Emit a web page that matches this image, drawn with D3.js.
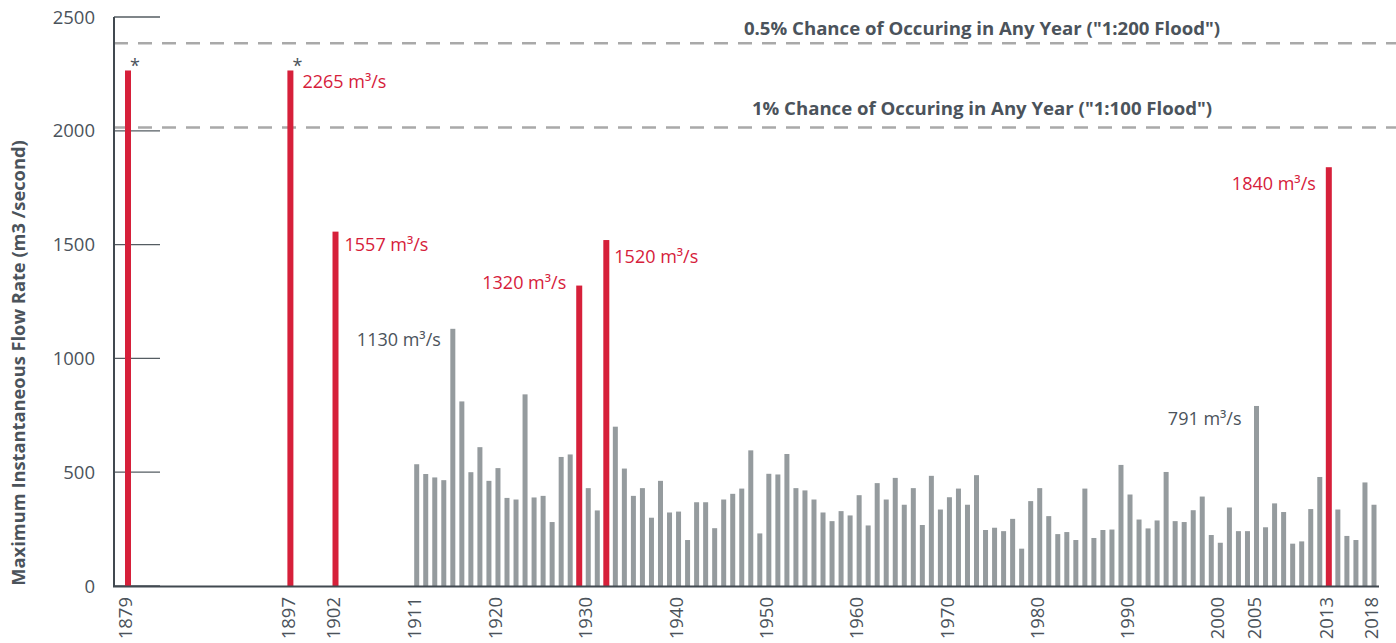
<!DOCTYPE html>
<html>
<head>
<meta charset="utf-8">
<script src="https://cdnjs.cloudflare.com/ajax/libs/d3/7.8.5/d3.min.js"></script>
<style>
body{margin:0;background:#fff;}
text{font-family:"Open Sans",sans-serif;fill:#4b535b;}
</style>
</head>
<body>
<script>
var outerWidth = 1396;
var outerHeight = 643;

// historic (estimated) floods before the gauge record
var earlyYears = [1879, 1897, 1902];
var earlyFlows = [2265, 2265, 1557];

// gauged annual maximum flows, one per year from 1911 to 2018
// (the source chart shows no bar for one year around 2001)
var recordStart = 1911;
var recordFlows = [
  535, 492, 477, 465, 1130, 811, 500, 610, 462, 518,   // 1911-1920
  387, 380, 842, 389, 396, 281, 567, 578, 1320, 430,   // 1921-1930
  332, 1520, 700, 516, 396, 430, 300, 462, 323, 327,   // 1931-1940
  202, 368, 368, 254, 380, 405, 428, 596, 231, 493,    // 1941-1950
  490, 580, 430, 420, 380, 323, 285, 329, 310, 399,    // 1951-1960
  266, 452, 380, 475, 357, 430, 268, 484, 336, 390,    // 1961-1970
  428, 357, 487, 246, 256, 241, 295, 164, 373, 430,    // 1971-1980
  307, 228, 237, 202, 428, 211, 246, 248, 532, 402,    // 1981-1990
  292, 253, 288, 501, 285, 281, 333, 393, 224, 190,    // 1991-2000
  null, 345, 241, 241, 791, 258, 363, 325, 186, 196,   // 2001-2010
  338, 479, 1840, 336, 220, 202, 455, 357              // 2011-2018
];

var highlightYears = [1879, 1897, 1902, 1929, 1932, 2013];
var starYears = [1879, 1897];

var xTickYears = [1879, 1897, 1902, 1911, 1920, 1930, 1940, 1950, 1960, 1970, 1980, 1990, 2000, 2005, 2013, 2018];
var yTicks = [0, 500, 1000, 1500, 2000, 2500];

var floodLevels = [2385, 2015];
var floodLabels = ['0.5% Chance of Occuring in Any Year ("1:200 Flood")', '1% Chance of Occuring  in Any Year ("1:100 Flood")'];

var calloutYears = [1897, 1902, 1929, 1932, 2013, 1915, 2005];
var calloutLabels = ["2265 m³/s", "1557 m³/s", "1320 m³/s", "1520 m³/s", "1840 m³/s", "1130 m³/s", "791 m³/s"];
// where each callout sits relative to the top of its bar
var calloutPlace = [
  {anchor: "start", dx: 12, dy: 18},
  {anchor: "start", dx: 9, dy: 19},
  {anchor: "end", dx: -13, dy: 3},
  {anchor: "start", dx: 8, dy: 23},
  {anchor: "end", dx: -13, dy: 23},
  {anchor: "end", dx: -12, dy: 17},
  {anchor: "end", dx: -15, dy: 19}
];

var red = "#d6203a";
var grey = "#959b9e";
var axisColor = "#414950";

var data = [];
earlyYears.forEach(function(yr, i){ data.push({year: yr, flow: earlyFlows[i]}); });
recordFlows.forEach(function(v, i){
  if (v != null) data.push({year: recordStart + i, flow: v});
});

var svg = d3.select("body")
  .append("svg")
  .attr("width", outerWidth)
  .attr("height", outerHeight);

// the year axis of the source squeezes the missing year out
var xScale = d3.scaleLinear()
  .domain([1879, 1911, 2000, 2002, 2018])
  .range([128, 416.7, 1220.3, 1229.4, 1374]);
var yScale = d3.scaleLinear().domain([0, 2500]).range([586, 17]);
var axisX = 114;

// flood level dashed lines
svg.selectAll("line.flood").data(floodLevels).enter().append("line")
  .attr("class", "flood")
  .attr("x1", axisX).attr("x2", outerWidth)
  .attr("y1", function(d){ return yScale(d); })
  .attr("y2", function(d){ return yScale(d); })
  .attr("stroke", "#a9a9a9")
  .attr("stroke-width", 2.5)
  .attr("stroke-dasharray", "14,10");

svg.selectAll("text.flood").data(floodLabels).enter().append("text")
  .attr("class", "flood")
  .attr("x", 982)
  .attr("y", function(d, i){ return yScale(floodLevels[i]) - (i == 0 ? 8 : 12); })
  .attr("text-anchor", "middle")
  .style("font-size", "18.6px")
  .style("font-weight", "bold")
  .text(function(d){ return d; });

// y ticks
svg.selectAll("line.ytick").data(yTicks).enter().append("line")
  .attr("class", "ytick")
  .attr("x1", axisX).attr("x2", 160)
  .attr("y1", function(d){ return yScale(d); })
  .attr("y2", function(d){ return yScale(d); })
  .attr("stroke", "#555c62")
  .attr("stroke-width", 1.3);

svg.selectAll("text.ytick").data(yTicks).enter().append("text")
  .attr("class", "ytick")
  .attr("x", 95)
  .attr("y", function(d){ return yScale(d); })
  .attr("dy", "0.36em")
  .attr("text-anchor", "end")
  .style("font-size", "18.5px")
  .text(function(d){ return d; });

// bars
svg.selectAll("rect.bar").data(data).enter().append("rect")
  .attr("class", "bar")
  .attr("x", function(d){ return xScale(d.year) - (highlightYears.indexOf(d.year) >= 0 ? 3 : 2.5); })
  .attr("width", function(d){ return highlightYears.indexOf(d.year) >= 0 ? 6 : 5; })
  .attr("y", function(d){ return yScale(d.flow); })
  .attr("height", function(d){ return yScale(0) - yScale(d.flow); })
  .attr("fill", function(d){ return highlightYears.indexOf(d.year) >= 0 ? red : grey; });

// axes lines
svg.append("line")
  .attr("x1", axisX).attr("x2", axisX)
  .attr("y1", yScale(2500)).attr("y2", yScale(0) + 1)
  .attr("stroke", axisColor).attr("stroke-width", 2);
svg.append("line")
  .attr("x1", axisX - 1).attr("x2", xScale(2018) + 5)
  .attr("y1", yScale(0) + 0.5).attr("y2", yScale(0) + 0.5)
  .attr("stroke", axisColor).attr("stroke-width", 2.2);

// x tick labels
svg.selectAll("text.xtick").data(xTickYears).enter().append("text")
  .attr("class", "xtick")
  .attr("transform", function(d){ return "translate(" + (xScale(d) - 2.5) + ",597) rotate(-90)"; })
  .attr("dy", "0.36em")
  .attr("text-anchor", "end")
  .style("font-size", "18.5px")
  .text(function(d){ return d; });

// asterisks on estimated floods
svg.selectAll("text.star").data(starYears).enter().append("text")
  .attr("class", "star")
  .attr("x", function(d){ return xScale(d) + 7; })
  .attr("y", function(d, i){ return yScale(earlyFlows[i]) + 2; })
  .attr("text-anchor", "middle")
  .style("font-size", "18px")
  .text("*");

// callouts
svg.selectAll("text.callout").data(calloutYears).enter().append("text")
  .attr("class", "callout")
  .attr("x", function(d, i){ return xScale(d) + calloutPlace[i].dx; })
  .attr("y", function(d, i){
    var flow = data.filter(function(r){ return r.year == d; })[0].flow;
    return yScale(flow) + calloutPlace[i].dy;
  })
  .attr("text-anchor", function(d, i){ return calloutPlace[i].anchor; })
  .style("font-size", "18px")
  .style("fill", function(d){ return highlightYears.indexOf(d) >= 0 ? red : "#4b535b"; })
  .text(function(d, i){ return calloutLabels[i]; });

// y axis title
svg.append("text")
  .attr("transform", "translate(25,363) rotate(-90)")
  .attr("text-anchor", "middle")
  .style("font-size", "18.3px")
  .style("font-weight", "bold")
  .text("Maximum Instantaneous Flow Rate (m3 /second)");
</script>
</body>
</html>
